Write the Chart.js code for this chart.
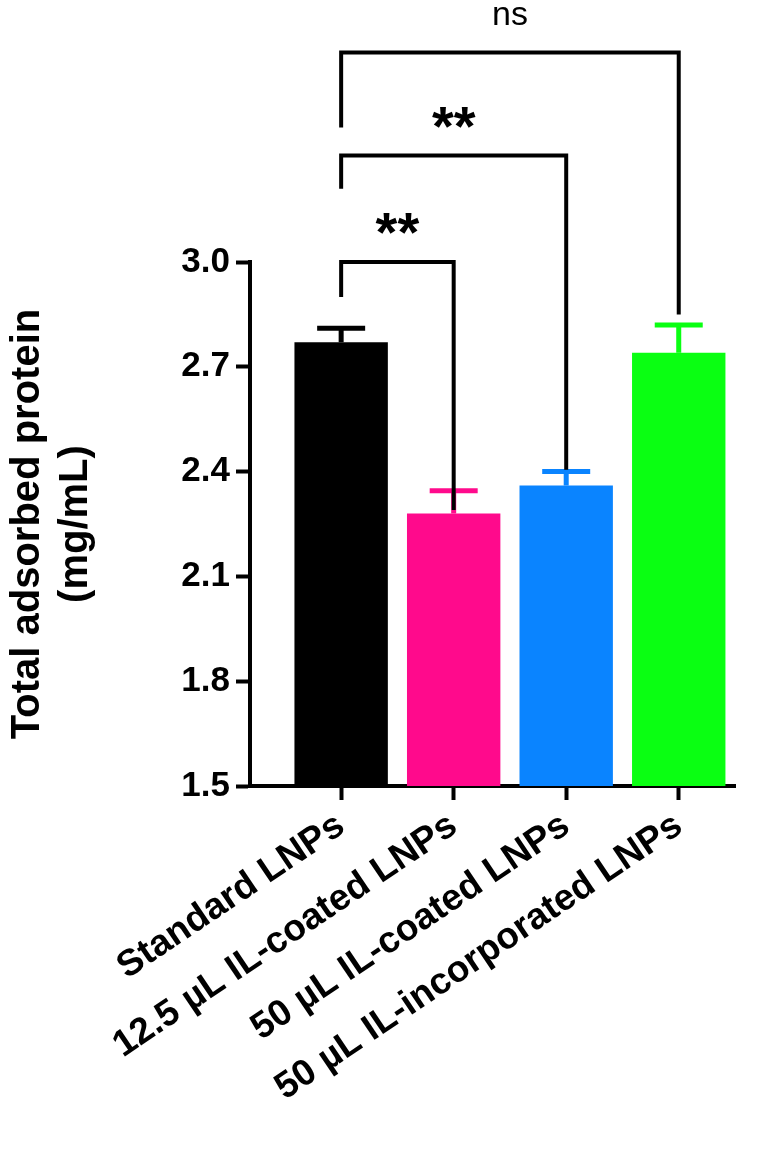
<!DOCTYPE html>
<html>
<head>
<meta charset="utf-8">
<script src="https://cdn.jsdelivr.net/npm/chart.js@4"></script>
<style>body{margin:0;background:#fff}</style>
</head>
<body>
<canvas id="c" width="774" height="1161"></canvas>
<script>
// data
const labels = ['Standard LNPs', '12.5 µL IL-coated LNPs', '50 µL IL-coated LNPs', '50 µL IL-incorporated LNPs'];
const means = [2.77, 2.28, 2.36, 2.74];
const sem = [0.04, 0.065, 0.04, 0.08];
const colors = ['#000000', '#ff0a8c', '#0a84ff', '#0aff12'];
const yTicks = [1.5, 1.8, 2.1, 2.4, 2.7, 3.0];
// significance brackets: [from, to, bar level, left leg end, right leg end, text]
const sigs = [
  [1, 2, 3.0, 2.9, 2.29, '**'],
  [1, 3, 3.305, 3.21, 2.405, '**'],
  [1, 4, 3.6, 3.385, 2.85, 'ns']
];

const font = 'Arial, "Liberation Sans", sans-serif';

const extras = {
  id: 'extras',
  afterDatasetsDraw(chart) {
    const c = chart.ctx, x = chart.scales.x, y = chart.scales.y;
    c.save();
    c.lineCap = 'butt';
    // error bars (upper only)
    means.forEach((m, i) => {
      const px = x.getPixelForValue(i + 1);
      c.strokeStyle = colors[i];
      c.lineWidth = 5;
      c.beginPath();
      c.moveTo(px, y.getPixelForValue(m));
      c.lineTo(px, y.getPixelForValue(m + sem[i]));
      c.moveTo(px - 24, y.getPixelForValue(m + sem[i]));
      c.lineTo(px + 24, y.getPixelForValue(m + sem[i]));
      c.stroke();
    });
    // brackets
    c.strokeStyle = '#000';
    c.lineWidth = 4;
    c.fillStyle = '#000';
    c.textAlign = 'center';
    c.textBaseline = 'bottom';
    sigs.forEach(s => {
      const x1 = x.getPixelForValue(s[0]), x2 = x.getPixelForValue(s[1]);
      const yt = y.getPixelForValue(s[2]);
      c.beginPath();
      c.moveTo(x1, y.getPixelForValue(s[3]));
      c.lineTo(x1, yt);
      c.lineTo(x2, yt);
      c.lineTo(x2, y.getPixelForValue(s[4]));
      c.stroke();
      if (s[5] === 'ns') {
        c.font = '34px ' + font;
        c.fillText(s[5], (x1 + x2) / 2, yt - 20);
      } else {
        c.font = 'bold 56px ' + font;
        c.fillText(s[5], (x1 + x2) / 2, yt + 2);
      }
    });
    c.restore();
  }
};

new Chart(document.getElementById('c'), {
  type: 'bar',
  data: {
    datasets: [{
      data: means.map((m, i) => ({ x: i + 1, y: m })),
      backgroundColor: colors,
      borderWidth: 0,
      categoryPercentage: 1,
      barPercentage: 0.83
    }]
  },
  options: {
    responsive: false,
    animation: false,
    layout: { padding: { top: 262, right: 39, left: 0, bottom: 0 } },
    plugins: { legend: { display: false }, tooltip: { enabled: false } },
    scales: {
      x: {
        type: 'linear',
        min: 0.19,
        max: 4.5,
        offset: false,
        afterBuildTicks: s => { s.ticks = labels.map((l, i) => ({ value: i + 1 })); },
        afterFit: s => { s.height = 375; },
        grid: { display: true, offset: false, drawOnChartArea: false, drawTicks: true, tickLength: 14, tickWidth: 4, color: '#000' },
        border: { color: '#000', width: 4 },
        ticks: {
          callback: (v) => labels[v - 1],
          color: '#000',
          font: { family: font, size: 37, weight: 'bold' },
          minRotation: 34,
          maxRotation: 34,
          autoSkip: false,
          padding: 4
        }
      },
      y: {
        min: 1.5,
        max: 3.0,
        afterBuildTicks: s => { s.ticks = yTicks.map(v => ({ value: v })); },
        afterFit: s => { s.width = 250; },
        grid: { display: true, drawOnChartArea: false, drawTicks: true, tickLength: 14, tickWidth: 4, color: '#000' },
        border: { color: '#000', width: 4 },
        ticks: {
          callback: v => v.toFixed(1),
          color: '#000',
          font: { family: font, size: 35, weight: 'bold' },
          padding: 6
        },
        title: {
          display: true,
          text: ['Total adsorbed protein', '(mg/mL)'],
          color: '#000',
          font: { family: font, size: 40, weight: 'bold' },
          padding: { bottom: 10 }
        }
      }
    }
  },
  plugins: [extras]
});
</script>
</body>
</html>
